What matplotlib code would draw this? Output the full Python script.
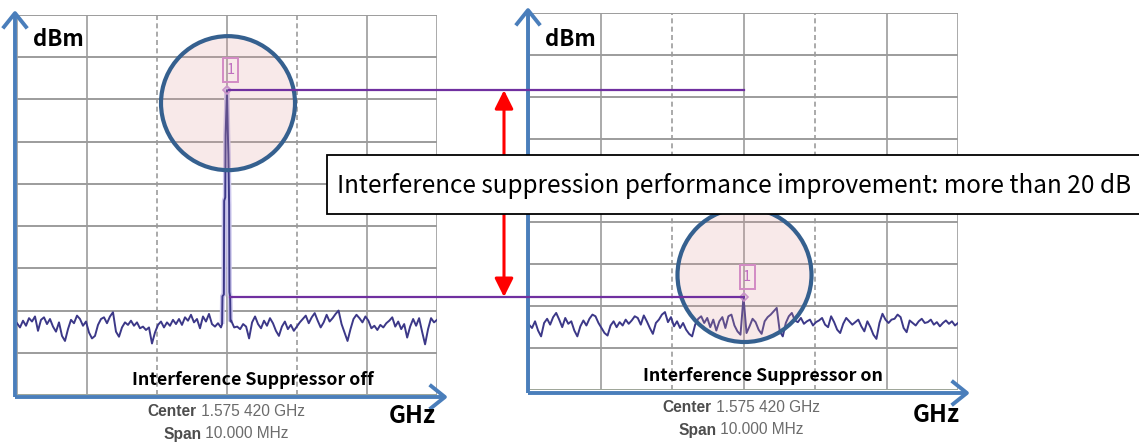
import numpy as np
import matplotlib
matplotlib.use("Agg")
import matplotlib.pyplot as plt
from matplotlib.patches import Circle, Rectangle, FancyArrowPatch
from matplotlib.lines import Line2D
from matplotlib.offsetbox import TextArea, HPacker, AnnotationBbox
from matplotlib.transforms import IdentityTransform

# ------------------------------------------------------------------ data
grid_freq_mhz = [-3, -2, -1, 0, 1, 2, 3]
dashed_freq_mhz = [-1, 1]
grid_level_dbm = [-75, -70, -65, -60, -55, -50, -45, -40, -35, -30]

# suppressor OFF trace: noise left of carrier, carrier spike, noise right
off_noise_left_dbm = [
    -66.5, -67.0, -66.2, -66.8, -65.9, -66.3, -65.7, -67.4, -66.1, -65.8,
    -66.6, -66.0, -66.9, -67.5, -66.4, -68.0, -68.6, -67.2, -66.1, -66.5,
    -65.6, -66.0, -66.8, -66.3, -67.6, -68.3, -68.0, -66.7, -66.0, -65.8,
    -66.5, -65.7, -65.2, -67.5, -68.1, -67.0, -66.4, -66.7, -66.2, -66.8,
    -66.4, -67.1, -66.9, -67.3, -67.0, -68.9, -67.6, -66.7, -66.3, -67.0,
    -66.4, -66.8, -66.1, -66.6, -66.0, -66.7, -65.8, -66.2, -65.5, -66.4,
    -66.0, -67.1, -65.7, -66.3, -65.4, -66.6, -66.9, -66.5, -67.0]
off_spike_f_mhz = [-0.07, -0.065, -0.045, -0.04, -0.025, -0.02, 0.0,
                   0.012, 0.02, 0.03, 0.035, 0.045, 0.05]
off_spike_dbm = [-66.6, -63.3, -63.1, -52.0, -51.6, -44.2, -38.9,
                 -44.0, -46.5, -52.5, -62.8, -63.4, -66.3]
off_noise_right_dbm = [
    -66.2, -67.0, -66.9, -67.2, -66.6, -66.9, -68.3, -66.4, -65.7, -66.6,
    -67.1, -66.2, -66.8, -65.9, -66.5, -67.4, -68.0, -66.9, -66.3, -67.2,
    -66.7, -67.4, -66.9, -66.4, -66.0, -65.6, -66.5, -65.8, -65.3, -66.2,
    -67.0, -66.4, -65.5, -66.3, -65.9, -65.4, -65.0, -66.6, -67.6, -68.6,
    -67.2, -66.0, -65.5, -65.9, -66.4, -65.7, -66.2, -67.1, -66.8, -67.3,
    -66.7, -67.0, -66.5, -66.2, -65.8, -66.9, -66.3, -67.2, -66.6, -68.2,
    -66.9, -66.0, -66.8, -65.9, -67.5, -69.0, -67.2, -65.9, -66.4, -66.1]

# suppressor ON trace (centre sample is the residual carrier)
on_trace_dbm = [
    -67.2, -67.6, -66.8, -67.9, -68.6, -67.0, -66.5, -67.2, -66.3, -65.8,
    -66.6, -67.5, -66.4, -67.1, -66.8, -67.9, -68.6, -67.4, -66.7, -67.3,
    -66.5, -66.0, -66.2, -67.0, -67.6, -68.2, -68.5, -67.3, -66.8, -67.5,
    -66.9, -67.3, -66.6, -67.1, -66.7, -66.2, -66.4, -67.2, -66.1, -66.8,
    -67.6, -68.3, -67.0, -66.6, -66.0, -65.7, -66.9, -66.3, -67.4, -66.8,
    -67.6, -67.0, -67.8, -68.3, -68.6, -67.2, -66.5, -66.2, -67.0, -66.4,
    -67.5, -66.6, -67.9, -66.8, -66.3, -67.6, -66.2, -66.0, -67.3, -68.0,
    -68.4, -63.9, -68.2, -67.4, -66.5, -66.9, -67.8, -68.3, -66.8, -66.3,
    -66.0, -65.6, -65.2, -68.0, -68.6, -67.0, -66.2, -65.8, -66.7, -66.9,
    -66.4, -67.1, -66.8, -66.6, -67.3, -66.9, -66.7, -66.4, -67.2, -67.5,
    -66.2, -66.9, -67.8, -68.2, -67.1, -66.4, -66.8, -67.2, -66.9, -66.6,
    -67.4, -68.0, -66.8, -67.5, -68.4, -68.9, -67.0, -65.9, -66.6, -67.0,
    -66.6, -66.5, -66.0, -66.3, -67.6, -68.1, -66.7, -67.0, -67.3, -66.8,
    -66.5, -67.0, -66.9, -66.6, -67.2, -66.9, -67.4, -67.0, -66.7, -67.1,
    -66.8, -67.3, -67.0]

panel_titles = ["Interference Suppressor off", "Interference Suppressor on"]
center_label = ("Center", " 1.575 420 GHz")
span_label = ("Span", " 10.000 MHz")
y_unit, x_unit = "dBm", "GHz"
annotation_text = "Interference suppression performance improvement: more than 20 dB"

# ------------------------------------------------------------------ figure
W, H = 1139, 442
fig = plt.figure(figsize=(W / 100, H / 100), dpi=100)
fig.patch.set_facecolor("white")
PX = IdentityTransform()

def dy(y_img):
    return H - y_img

CJK = ["Noto Sans CJK KR", "DejaVu Sans"]
GRID_C = "#9c9c9c"
TRACE_C = "#3c3888"
BLUE = "#4a7ebb"
PURPLE = "#7030a0"

# panel rectangles in pixels (left, top, right, bottom)
panels = [(17, 15, 437, 395), (529, 13, 958, 390)]
axes = []
for (l, t, r, b) in panels:
    ax = fig.add_axes([l / W, (H - b) / H, (r - l) / W, (b - t) / H])
    ax.set_xlim(grid_freq_mhz[0], grid_freq_mhz[-1])
    ax.set_ylim(grid_level_dbm[0], grid_level_dbm[-1])
    ax.set_axis_off()
    for f in grid_freq_mhz:
        ls = (0, (3, 2)) if f in dashed_freq_mhz else "-"
        ax.axvline(f, color=GRID_C, lw=1.2, ls=ls, zorder=1)
    for lv in grid_level_dbm:
        ax.axhline(lv, color=GRID_C, lw=1.4, zorder=1)
    ax.axhline(grid_level_dbm[0], color="#a9d18e", lw=1.0, zorder=1.5)
    axes.append(ax)

ax_off, ax_on = axes

# OFF trace
f_left = np.linspace(-3.0, -0.086, len(off_noise_left_dbm))
f_right = np.linspace(0.06, 3.0, len(off_noise_right_dbm))
f_off = np.concatenate([f_left, off_spike_f_mhz, f_right])
p_off = np.concatenate([off_noise_left_dbm, off_spike_dbm, off_noise_right_dbm])
ax_off.plot(off_spike_f_mhz, off_spike_dbm, color="#cdc8ee", lw=3.5, zorder=2,
            solid_capstyle="butt")
ax_off.plot(f_off, p_off, color=TRACE_C, lw=1.4, zorder=3)

# ON trace
f_on = np.linspace(-3.0, 3.0, len(on_trace_dbm))
ax_on.plot(f_on, on_trace_dbm, color=TRACE_C, lw=1.4, zorder=3)

# peak positions in pixels
i_pk = int(np.argmax(p_off))
pk_off = ax_off.transData.transform((f_off[i_pk], p_off[i_pk]))
i_on = int(np.argmax(on_trace_dbm))
pk_on = ax_on.transData.transform((f_on[i_on], on_trace_dbm[i_on]))

# peak markers: diamond + boxed "1"
for ax, f, p in [(ax_off, f_off[i_pk], p_off[i_pk]), (ax_on, f_on[i_on], on_trace_dbm[i_on])]:
    ax.plot([f], [p], marker="D", ms=4, mfc="none", mec="#c48fd6", mew=1.2, zorder=4)
for (px, py) in [pk_off, pk_on]:
    fig.add_artist(Rectangle((px - 4, py + 8), 15, 24, transform=PX,
                             fill=False, ec="#cf86cf", lw=1.4))
    fig.text(px + 3.5, py + 20, "1", transform=PX, ha="center", va="center",
             fontsize=10.5, color="#c070c0", family=CJK)

# circles
for (px, py), off in [(pk_off, -13), (pk_on, 22)]:
    fig.add_artist(Circle((px + 1, py + off), 67, transform=PX,
                          fc=(0.88, 0.62, 0.62, 0.22), ec="#35608f", lw=3.0))

# purple reference lines
x_on_center = ax_on.transData.transform((0, 0))[0]
fig.add_artist(Line2D([pk_off[0] + 2, x_on_center], [pk_off[1], pk_off[1]],
                      transform=PX, color=PURPLE, lw=1.6))
x_off_right = ax_off.transData.transform((0.045, 0))[0]
fig.add_artist(Line2D([x_off_right, pk_on[0]], [pk_on[1], pk_on[1]],
                      transform=PX, color=PURPLE, lw=1.6))

# red double arrow
x_arrow = 504
fig.add_artist(FancyArrowPatch((x_arrow, pk_off[1]), (x_arrow, pk_on[1]),
                               transform=PX, arrowstyle="<|-|>,head_length=0.7,head_width=0.35",
                               mutation_scale=16, color="#ff0000", lw=2.2,
                               shrinkA=0, shrinkB=0))

# blue axis arrows
for (x0, y0, xtip, ytip) in [(15, 397, 448, 10), (528, 393, 970, 7)]:
    for end in [(xtip, dy(y0)), (x0, dy(ytip))]:
        fig.add_artist(FancyArrowPatch((x0, dy(y0)), end, transform=PX,
                                       arrowstyle="->,head_length=0.5,head_width=0.4",
                                       mutation_scale=22, color=BLUE, lw=2.8,
                                       shrinkA=0, shrinkB=0, capstyle="butt"))

# axis unit labels
for (xu, yu) in [(33, 40), (545, 40)]:
    fig.text(xu, dy(yu), y_unit, transform=PX, ha="left", va="center",
             fontsize=16, fontweight="bold", family=CJK)
for (xg, yg) in [(412, 416), (936, 415)]:
    fig.text(xg, dy(yg), x_unit, transform=PX, ha="center", va="center",
             fontsize=17, fontweight="bold", family=CJK)

# panel titles
renderer = fig.canvas.get_renderer()
for title, (xt, yt) in zip(panel_titles, [(253, 380), (763, 376)]):
    t = fig.text(xt, dy(yt), title, transform=PX, ha="center", va="center",
                 fontsize=14, fontweight="bold", family=CJK)
    w = t.get_window_extent(renderer).width
    t.set_fontsize(14 * 241 / w)

# center / span lines
def two_part(x, y, bold, reg, size):
    ta = TextArea(bold, textprops=dict(fontsize=size, fontweight="bold",
                                       color="#4d4d4d", family="Liberation Sans"))
    tb = TextArea(reg, textprops=dict(fontsize=size, color="#6b6b6b",
                                      family="Liberation Sans"))
    box = HPacker(children=[ta, tb], pad=0, sep=0, align="baseline")
    ab = AnnotationBbox(box, (x, dy(y)), xycoords="figure pixels",
                        box_alignment=(0.5, 0.5), frameon=False)
    fig.add_artist(ab)

for (xc, yc, ys) in [(226, 411, 434), (741, 407, 430)]:
    two_part(xc, yc, *center_label, 11.2)
    two_part(xc, ys, *span_label, 11.2)

# annotation box
fig.add_artist(Rectangle((327, dy(214)), 830, 59, transform=PX,
                         fc="white", ec="black", lw=1.3, zorder=5))
ta = fig.text(337, dy(186), annotation_text, transform=PX, ha="left", va="center",
              fontsize=19, family=CJK, zorder=6)
w = ta.get_window_extent(renderer).width
ta.set_fontsize(19 * 793 / w)

fig.savefig("out.png", dpi=100)
